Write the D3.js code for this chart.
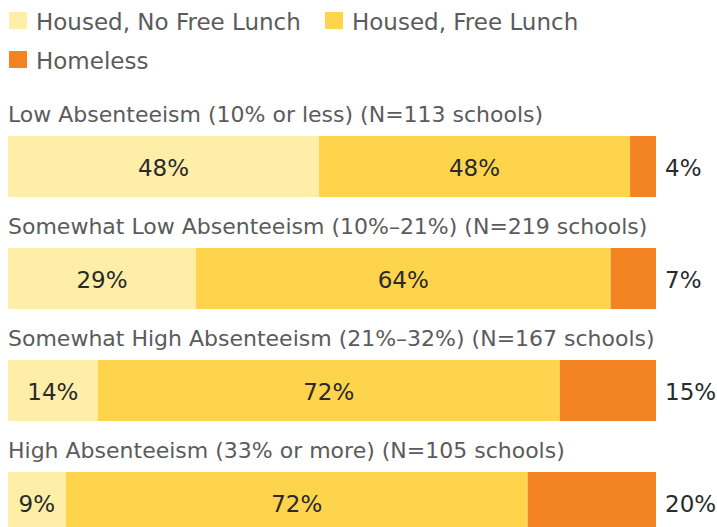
<!DOCTYPE html>
<html>
<head>
<meta charset="utf-8">
<script src="https://cdn.jsdelivr.net/npm/d3@7"></script>
<style>
  body { margin: 0; background: #fff; }
  text { font-family: "DejaVu Sans", sans-serif; }
</style>
</head>
<body>
<svg id="chart"></svg>
<script>
var width = 717, height = 527;

var categories = [
  "Low Absenteeism (10% or less) (N=113 schools)",
  "Somewhat Low Absenteeism (10%\u201321%) (N=219 schools)",
  "Somewhat High Absenteeism (21%\u201332%) (N=167 schools)",
  "High Absenteeism (33% or more) (N=105 schools)"
];
var series = ["Housed, No Free Lunch", "Housed, Free Lunch", "Homeless"];
var noFreeLunch = [48, 29, 14, 9];
var freeLunch = [48, 64, 72, 72];
var homeless = [4, 7, 15, 20];
var colors = ["#feeea8", "#fed44d", "#f38223"];

var svg = d3.select("#chart").attr("width", width).attr("height", height);

// legend
var legendPos = [[9, 12], [325, 12], [9, 51]];
var legend = svg.append("g").selectAll("g").data(series).enter().append("g")
    .attr("transform", function(d, i) { return "translate(" + legendPos[i][0] + "," + legendPos[i][1] + ")"; });
legend.append("rect").attr("width", 18).attr("height", 17)
    .attr("fill", function(d, i) { return colors[i]; });
legend.append("text").attr("x", 27).attr("y", 18)
    .attr("fill", "#5b5b5b").style("font-size", "23px")
    .text(function(d) { return d; });

// rows
var rows = categories.map(function(c, i) {
  var vals = [noFreeLunch[i], freeLunch[i], homeless[i]];
  var total = d3.sum(vals), acc = 0;
  return {label: c, segs: vals.map(function(v, j) {
    var s = {v: v, k: j, x0: acc / total, x1: (acc + v) / total};
    acc += v;
    return s;
  })};
});

var x = d3.scaleLinear().domain([0, 1]).range([8, 656]);
var y = d3.scaleBand().domain(d3.range(categories.length)).range([92, 540]).paddingInner(0);
var barTop = 44, barH = 61;

var row = svg.append("g").selectAll("g").data(rows).enter().append("g")
    .attr("transform", function(d, i) { return "translate(0," + y(i) + ")"; });

row.append("text").attr("x", 8).attr("y", 30)
    .attr("fill", "#5b5b5b").style("font-size", "22px")
    .text(function(d) { return d.label; });

row.selectAll("rect").data(function(d) { return d.segs; }).enter().append("rect")
    .attr("x", function(d) { return x(d.x0); })
    .attr("width", function(d) { return x(d.x1) - x(d.x0); })
    .attr("y", barTop).attr("height", barH)
    .attr("fill", function(d) { return colors[d.k]; });

row.selectAll("text.val").data(function(d) { return d.segs; }).enter().append("text")
    .attr("class", "val")
    .attr("x", function(d) { return d.k === 2 ? x(1) + 9 : (x(d.x0) + x(d.x1)) / 2; })
    .attr("y", barTop + 40)
    .attr("text-anchor", function(d) { return d.k === 2 ? "start" : "middle"; })
    .attr("fill", "#2a2a2a").style("font-size", "23px")
    .text(function(d) { return d.v + "%"; });
</script>
</body>
</html>
